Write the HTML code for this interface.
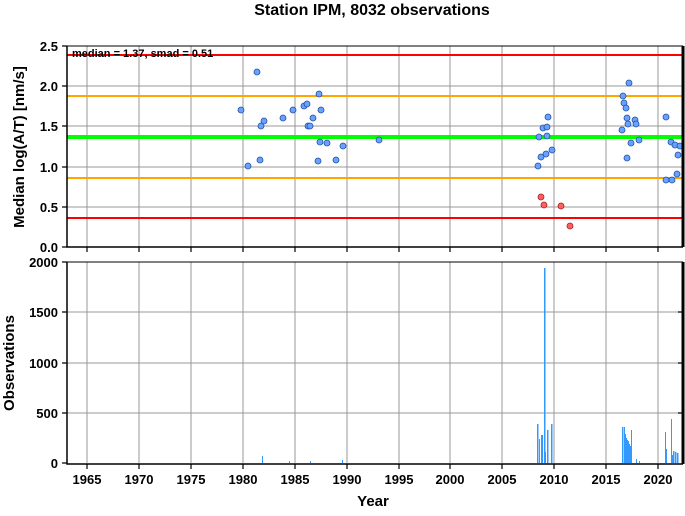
<!DOCTYPE html><html><head><style>body{margin:0;background:#fff}svg{font-family:"Liberation Sans",sans-serif;font-weight:bold}</style></head><body>
<svg width="685" height="511" xmlns="http://www.w3.org/2000/svg">
<rect width="685" height="511" fill="#fff"/>
<text x="372" y="15" font-size="16" text-anchor="middle">Station IPM, 8032 observations</text>
<g stroke="#999" stroke-width="1">
<line x1="87" y1="46" x2="87" y2="247"/><line x1="139" y1="46" x2="139" y2="247"/><line x1="191" y1="46" x2="191" y2="247"/><line x1="243" y1="46" x2="243" y2="247"/><line x1="295" y1="46" x2="295" y2="247"/><line x1="347" y1="46" x2="347" y2="247"/><line x1="399" y1="46" x2="399" y2="247"/><line x1="450" y1="46" x2="450" y2="247"/><line x1="502" y1="46" x2="502" y2="247"/><line x1="554" y1="46" x2="554" y2="247"/><line x1="606" y1="46" x2="606" y2="247"/><line x1="658" y1="46" x2="658" y2="247"/>
<line x1="67" y1="86" x2="683" y2="86"/><line x1="67" y1="126" x2="683" y2="126"/><line x1="67" y1="167" x2="683" y2="167"/><line x1="67" y1="207" x2="683" y2="207"/>
<line x1="87" y1="262" x2="87" y2="463"/><line x1="139" y1="262" x2="139" y2="463"/><line x1="191" y1="262" x2="191" y2="463"/><line x1="243" y1="262" x2="243" y2="463"/><line x1="295" y1="262" x2="295" y2="463"/><line x1="347" y1="262" x2="347" y2="463"/><line x1="399" y1="262" x2="399" y2="463"/><line x1="450" y1="262" x2="450" y2="463"/><line x1="502" y1="262" x2="502" y2="463"/><line x1="554" y1="262" x2="554" y2="463"/><line x1="606" y1="262" x2="606" y2="463"/><line x1="658" y1="262" x2="658" y2="463"/>
<line x1="67" y1="312" x2="683" y2="312"/><line x1="67" y1="363" x2="683" y2="363"/><line x1="67" y1="413" x2="683" y2="413"/>
</g>
<g stroke-width="2"><line x1="67" y1="55" x2="683" y2="55" stroke="#f00"/><line x1="67" y1="218" x2="683" y2="218" stroke="#f00"/>
<line x1="67" y1="96" x2="683" y2="96" stroke="#ffa500"/><line x1="67" y1="178" x2="683" y2="178" stroke="#ffa500"/>
<line x1="67" y1="137" x2="683" y2="137" stroke="#0f0" stroke-width="4"/></g>
<text x="72" y="57" font-size="11">median = 1.37, smad = 0.51</text>
<g fill="#6aa0ff" stroke="#2050a0" stroke-width="0.8">
<circle cx="241" cy="110" r="3"/><circle cx="248" cy="166" r="3"/><circle cx="257" cy="72" r="3"/><circle cx="261" cy="126" r="3"/><circle cx="260" cy="160" r="3"/><circle cx="264" cy="121" r="3"/><circle cx="283" cy="118" r="3"/><circle cx="293" cy="110" r="3"/><circle cx="304" cy="106" r="3"/><circle cx="307" cy="104" r="3"/><circle cx="308" cy="126" r="3"/><circle cx="310" cy="126" r="3"/><circle cx="313" cy="118" r="3"/><circle cx="319" cy="94" r="3"/><circle cx="321" cy="110" r="3"/><circle cx="320" cy="142" r="3"/><circle cx="318" cy="161" r="3"/><circle cx="327" cy="143" r="3"/><circle cx="336" cy="160" r="3"/><circle cx="343" cy="146" r="3"/><circle cx="379" cy="140" r="3"/>
<circle cx="538" cy="166" r="3"/><circle cx="541" cy="157" r="3"/><circle cx="539" cy="137" r="3"/><circle cx="543" cy="128" r="3"/><circle cx="546" cy="154" r="3"/><circle cx="547" cy="136" r="3"/><circle cx="548" cy="117" r="3"/><circle cx="552" cy="150" r="3"/><circle cx="547" cy="127" r="3"/>
<circle cx="622" cy="130" r="3"/><circle cx="623" cy="96" r="3"/><circle cx="624" cy="103" r="3"/><circle cx="626" cy="108" r="3"/><circle cx="627" cy="118" r="3"/><circle cx="627" cy="158" r="3"/><circle cx="629" cy="83" r="3"/><circle cx="628" cy="124" r="3"/><circle cx="631" cy="143" r="3"/><circle cx="635" cy="120" r="3"/><circle cx="636" cy="124" r="3"/><circle cx="639" cy="140" r="3"/><circle cx="666" cy="117" r="3"/><circle cx="666" cy="180" r="3"/><circle cx="671" cy="142" r="3"/><circle cx="672" cy="180" r="3"/><circle cx="675" cy="145" r="3"/><circle cx="678" cy="155" r="3"/><circle cx="677" cy="174" r="3"/><circle cx="680" cy="146" r="3"/>
</g>
<g fill="#ff6060" stroke="#a02020" stroke-width="0.8"><circle cx="541" cy="197" r="3"/><circle cx="544" cy="205" r="3"/><circle cx="561" cy="206" r="3"/><circle cx="570" cy="226" r="3"/></g>
<g fill="#3399ff">
<rect x="262" y="456" width="1" height="7"/><rect x="289" y="461" width="1" height="2"/><rect x="310" y="461" width="1" height="2"/><rect x="342" y="460" width="1" height="3"/>
<rect x="537" y="424" width="1.5" height="39"/><rect x="539" y="439" width="1" height="24"/><rect x="541" y="435" width="1" height="28"/><rect x="542" y="435" width="1" height="28"/><rect x="544" y="268" width="1.5" height="195"/><rect x="545" y="452" width="1" height="11"/><rect x="547" y="430" width="1.5" height="33"/><rect x="551" y="424" width="1.5" height="39"/>
<rect x="622" y="427" width="1.5" height="36"/><rect x="624" y="427" width="1" height="36"/><rect x="625" y="434" width="1" height="29"/><rect x="626" y="438" width="1" height="25"/><rect x="627" y="440" width="1" height="23"/><rect x="628" y="441" width="1" height="22"/><rect x="629" y="444" width="1" height="19"/><rect x="630" y="446" width="1" height="17"/><rect x="631" y="430" width="1" height="33"/><rect x="636" y="459" width="1" height="4"/><rect x="639" y="461" width="1" height="2"/>
<rect x="665" y="432" width="1" height="31"/><rect x="666" y="449" width="1" height="14"/><rect x="671" y="419" width="1" height="44"/><rect x="672" y="455" width="1" height="8"/><rect x="673" y="451" width="1.5" height="12"/><rect x="675" y="452" width="1.5" height="11"/><rect x="677" y="453" width="1.5" height="10"/>
</g>
<g stroke="#000" fill="none"><path d="M67 46V247H683" stroke-width="1.5"/><path d="M683 46V247M683 262V464" stroke-width="3"/><path d="M67 262V464H683" stroke-width="1.5"/><line x1="67" y1="46" x2="683" y2="46"/><line x1="67" y1="262" x2="683" y2="262"/></g>
<g stroke="#000" stroke-width="1.2">
<path d="M87 247v5M139 247v5M191 247v5M243 247v5M295 247v5M347 247v5M399 247v5M450 247v5M502 247v5M554 247v5M606 247v5M658 247v5"/>
<path d="M87 464v5M139 464v5M191 464v5M243 464v5M295 464v5M347 464v5M399 464v5M450 464v5M502 464v5M554 464v5M606 464v5M658 464v5"/>
<path d="M62 46h5M62 86h5M62 126h5M62 167h5M62 207h5M62 247h5M62 262h5M62 312h5M62 363h5M62 413h5M62 463h5M683 312h-5M683 363h-5M683 413h-5"/>
</g>
<g font-size="13" text-anchor="end"><text x="58" y="51">2.5</text><text x="58" y="91">2.0</text><text x="58" y="131">1.5</text><text x="58" y="172">1.0</text><text x="58" y="212">0.5</text><text x="58" y="252">0.0</text>
<text x="58" y="267">2000</text><text x="58" y="317">1500</text><text x="58" y="368">1000</text><text x="58" y="418">500</text><text x="58" y="468">0</text></g>
<g font-size="13" text-anchor="middle"><text x="87" y="484">1965</text><text x="139" y="484">1970</text><text x="191" y="484">1975</text><text x="243" y="484">1980</text><text x="295" y="484">1985</text><text x="347" y="484">1990</text><text x="399" y="484">1995</text><text x="450" y="484">2000</text><text x="502" y="484">2005</text><text x="554" y="484">2010</text><text x="606" y="484">2015</text><text x="658" y="484">2020</text></g>
<text x="373" y="506" font-size="15" text-anchor="middle">Year</text>
<text transform="translate(24,147) rotate(-90)" font-size="15" text-anchor="middle">Median log(A/T) [nm/s]</text>
<text transform="translate(14,363) rotate(-90)" font-size="15" text-anchor="middle">Observations</text>
</svg></body></html>
